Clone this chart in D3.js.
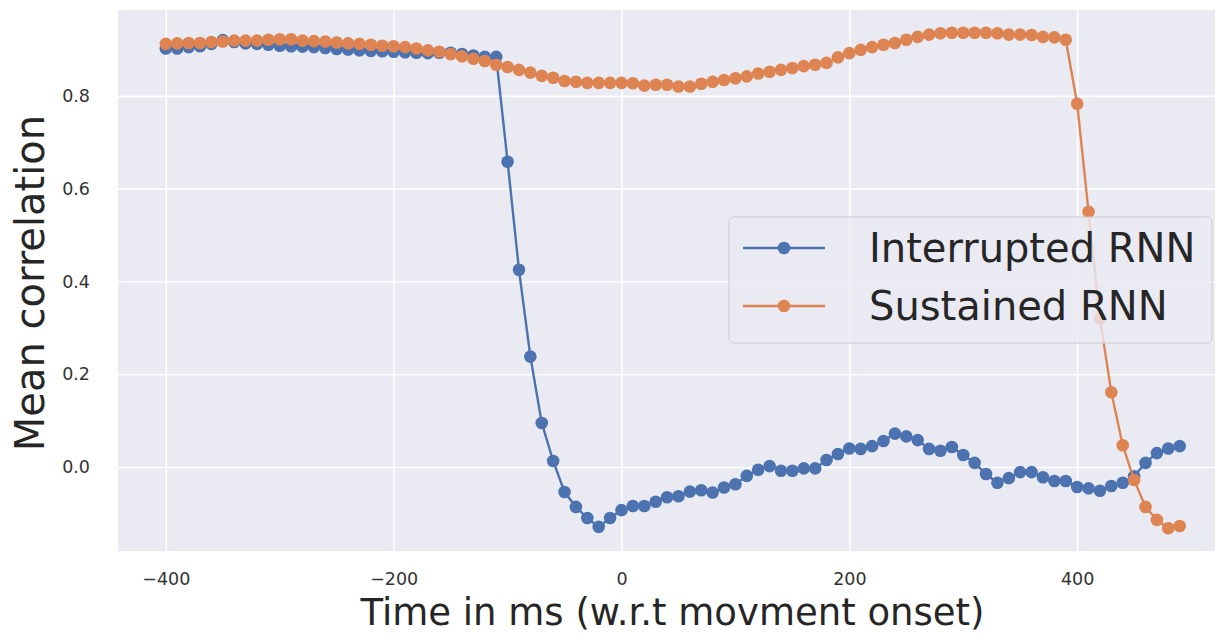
<!DOCTYPE html>
<html>
<head>
<meta charset="utf-8">
<script src="https://cdn.jsdelivr.net/npm/d3@7"></script>
<style>
  body { margin: 0; background: #fff; }
  text { font-family: "DejaVu Sans", sans-serif; }
</style>
</head>
<body>
<div id="chart"></div>
<script>
// time points (ms, relative to movement onset)
var times = d3.range(-400, 500, 10);

var interrupted = [
    0.902, 0.902, 0.905, 0.907, 0.912, 0.920, 0.916, 0.913, 0.912, 0.910,
    0.908, 0.907, 0.906, 0.905, 0.903, 0.901, 0.900, 0.898, 0.897, 0.896,
    0.895, 0.894, 0.893, 0.892, 0.893, 0.893, 0.890, 0.887, 0.884, 0.884,
    0.658, 0.425, 0.238, 0.095, 0.013, -0.054, -0.086, -0.110, -0.129, -0.110,
    -0.093, -0.084, -0.084, -0.075, -0.065, -0.063, -0.053, -0.050, -0.055, -0.044,
    -0.037, -0.019, -0.006, 0.002, -0.008, -0.008, -0.003, -0.003, 0.015, 0.028,
    0.040, 0.039, 0.045, 0.056, 0.072, 0.066, 0.058, 0.039, 0.035, 0.043,
    0.026, 0.009, -0.015, -0.034, -0.024, -0.011, -0.011, -0.022, -0.030, -0.030,
    -0.043, -0.046, -0.051, -0.041, -0.034, -0.020, 0.009, 0.030, 0.040, 0.045
];

var sustained = [
    0.912, 0.913, 0.914, 0.914, 0.916, 0.917, 0.919, 0.919, 0.919, 0.921,
    0.922, 0.922, 0.919, 0.918, 0.917, 0.915, 0.913, 0.912, 0.910, 0.908,
    0.907, 0.905, 0.902, 0.898, 0.895, 0.890, 0.885, 0.880, 0.875, 0.867,
    0.862, 0.856, 0.850, 0.843, 0.839, 0.832, 0.830, 0.828, 0.828, 0.828,
    0.828, 0.827, 0.822, 0.824, 0.824, 0.820, 0.820, 0.826, 0.830, 0.834,
    0.838, 0.842, 0.848, 0.852, 0.856, 0.860, 0.864, 0.867, 0.871, 0.883,
    0.892, 0.899, 0.905, 0.910, 0.914, 0.921, 0.927, 0.932, 0.935, 0.936,
    0.936, 0.936, 0.936, 0.935, 0.932, 0.932, 0.931, 0.927, 0.926, 0.921,
    0.783, 0.550, 0.320, 0.161, 0.047, -0.028, -0.086, -0.114, -0.132, -0.127
];

var seriesNames = ["Interrupted RNN", "Sustained RNN"];
var seriesColors = ["#4c72b0", "#dd8452"];
var xTicks = [-400, -200, 0, 200, 400];
var yTicks = [0.0, 0.2, 0.4, 0.6, 0.8];

var width = 1217, height = 635;
var plotLeft = 118, plotRight = 1215, plotTop = 10, plotBottom = 551;

var svg = d3.select("#chart")
    .append("svg")
    .attr("width", width)
    .attr("height", height);

var xScale = d3.scaleLinear().domain([-442, 521]).range([plotLeft, plotRight]);
var yScale = d3.scaleLinear().domain([-0.181, 0.985]).range([plotBottom, plotTop]);

// plot background
svg.append("rect")
    .attr("x", plotLeft)
    .attr("y", plotTop)
    .attr("width", plotRight - plotLeft)
    .attr("height", plotBottom - plotTop)
    .attr("fill", "#eaeaf2");

var xAxis = d3.axisBottom(xScale)
    .tickValues(xTicks)
    .tickFormat(function(d) { return d < 0 ? "\u2212" + Math.abs(d) : d; })
    .tickSize(-(plotBottom - plotTop))
    .tickPadding(22);

var yAxis = d3.axisLeft(yScale)
    .tickValues(yTicks)
    .tickFormat(d3.format(".1f"))
    .tickSize(-(plotRight - plotLeft))
    .tickPadding(28);

var xAxisPlot = svg.append("g")
    .attr("transform", "translate(0," + plotBottom + ")")
    .call(xAxis);

var yAxisPlot = svg.append("g")
    .attr("transform", "translate(" + plotLeft + ",0)")
    .call(yAxis);

[xAxisPlot, yAxisPlot].forEach(function(g) {
    g.select(".domain").remove();
    g.selectAll(".tick line").attr("stroke", "#fff").attr("stroke-width", 1.6);
    g.selectAll(".tick text")
        .attr("fill", "#333")
        .style("font-size", "17.5px");
});

// series
var allSeries = [interrupted, sustained];
var line = d3.line()
    .x(function(d, i) { return xScale(times[i]); })
    .y(function(d) { return yScale(d); });

allSeries.forEach(function(values, k) {
    var g = svg.append("g");
    g.append("path")
        .datum(values)
        .attr("d", line)
        .attr("fill", "none")
        .attr("stroke", seriesColors[k])
        .attr("stroke-width", 2.4);
    g.selectAll("circle")
        .data(values)
        .enter()
        .append("circle")
        .attr("cx", function(d, i) { return xScale(times[i]); })
        .attr("cy", function(d) { return yScale(d); })
        .attr("r", 6.3)
        .attr("fill", seriesColors[k]);
});

// axis labels
svg.append("text")
    .attr("x", (plotLeft + plotRight) / 2 + 6)
    .attr("y", 625)
    .attr("text-anchor", "middle")
    .attr("fill", "#262626")
    .style("font-size", "37px")
    .text("Time in ms (w.r.t movment onset)");

svg.append("text")
    .attr("transform", "translate(44," + 283 + ") rotate(-90)")
    .attr("text-anchor", "middle")
    .attr("fill", "#262626")
    .style("font-size", "40px")
    .text("Mean correlation");

// legend
var legend = svg.append("g");
legend.append("rect")
    .attr("x", 729)
    .attr("y", 217)
    .attr("width", 483)
    .attr("height", 126)
    .attr("rx", 5)
    .attr("fill", "#eaeaf2")
    .attr("fill-opacity", 0.8)
    .attr("stroke", "#cccccc")
    .attr("stroke-width", 1);

seriesNames.forEach(function(name, k) {
    var ly = 248 + k * 58;
    legend.append("line")
        .attr("x1", 743).attr("x2", 825)
        .attr("y1", ly).attr("y2", ly)
        .attr("stroke", seriesColors[k])
        .attr("stroke-width", 2.4);
    legend.append("circle")
        .attr("cx", 784).attr("cy", ly)
        .attr("r", 6.3)
        .attr("fill", seriesColors[k]);
    legend.append("text")
        .attr("x", 869)
        .attr("y", ly + 14)
        .attr("fill", "#262626")
        .style("font-size", "40px")
        .text(name);
});
</script>
</body>
</html>
